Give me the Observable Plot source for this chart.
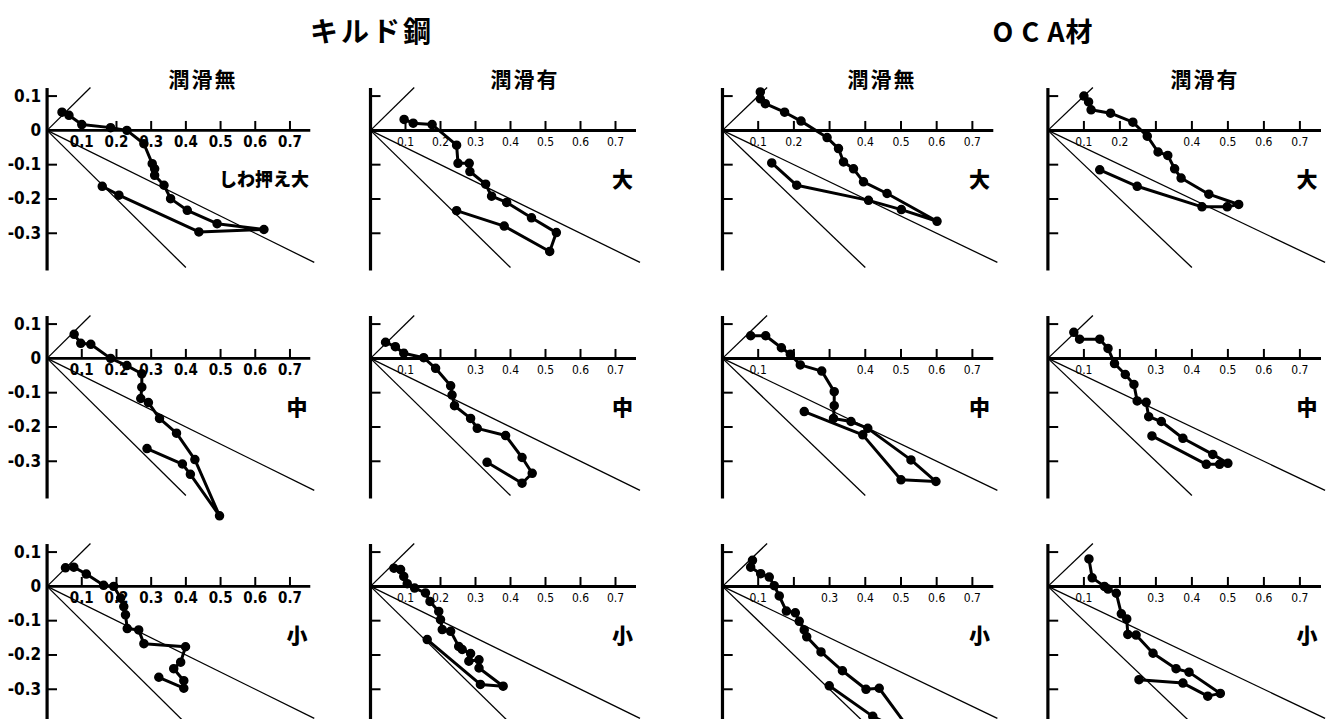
<!DOCTYPE html>
<html><head><meta charset="utf-8">
<script src="https://cdn.jsdelivr.net/npm/d3@7"></script>
<script src="https://cdn.jsdelivr.net/npm/@observablehq/plot@0.6"></script>
<style>
body{margin:0;background:#fff;}
#wrap{position:relative;width:1333px;height:719px;overflow:hidden;background:#fff;}
.t{position:absolute;font-family:"Noto Sans CJK JP",sans-serif;font-weight:700;color:#000;transform:translate(-50%,-50%);white-space:nowrap;line-height:1;}
.p{position:absolute;}
</style></head><body><div id="wrap"></div>
<script>
// ---- text ----
const materials = ["キルド鋼", "O C A材"];
const lubrication = ["潤滑無", "潤滑有", "潤滑無", "潤滑有"];
const rowLabels = [["しわ押え大", "大", "大", "大"], ["中", "中", "中", "中"], ["小", "小", "小", "小"]];

// ---- axis ticks ----
const xTicks = [0.1, 0.2, 0.3, 0.4, 0.5, 0.6, 0.7];
const yTicks = [0.1, -0.1, -0.2, -0.3];
const yTickLabels = ["0.1", "0", "-0.1", "-0.2", "-0.3"];
const xAll = ["0.1", "0.2", "0.3", "0.4", "0.5", "0.6", "0.7"];
const xNo3 = ["0.1", "0.2", "0.4", "0.5", "0.6", "0.7"];
const xNo2 = ["0.1", "0.3", "0.4", "0.5", "0.6", "0.7"];
const xNo23 = ["0.1", "0.4", "0.5", "0.6", "0.7"];
const xTickLabels = [xAll, xAll, xNo3, xNo3, xAll, xNo2, xNo23, xNo2, xAll, xAll, xNo2, xNo2];

// ---- reference lines (slope, x extent) ----
const guideSlopes = [1, -1, -0.5];
const guideXEnd = [0.125, 0.40, 0.77];

// ---- strain paths (x, y) per panel ----
const p1x = [0.043,0.063,0.100,0.183,0.23,0.279,0.303,0.310,0.310,0.337,0.356,0.404,0.490,0.625,0.4375,0.207,0.159];
const p1y = [0.053,0.044,0.017,0.008,0.0,-0.039,-0.097,-0.112,-0.131,-0.160,-0.199,-0.233,-0.272,-0.289,-0.296,-0.189,-0.163];
const p2x = [0.096,0.122,0.176,0.246,0.250,0.282,0.284,0.329,0.346,0.389,0.460,0.531,0.512,0.382,0.246];
const p2y = [0.032,0.021,0.017,-0.043,-0.096,-0.096,-0.120,-0.157,-0.192,-0.210,-0.255,-0.298,-0.353,-0.279,-0.234];
const p3x = [0.106,0.106,0.120,0.174,0.220,0.293,0.325,0.339,0.367,0.395,0.461,0.601,0.501,0.409,0.208,0.138];
const p3y = [0.112,0.092,0.078,0.053,0.027,-0.021,-0.053,-0.092,-0.112,-0.150,-0.184,-0.265,-0.231,-0.204,-0.160,-0.095];
const p4x = [0.100,0.113,0.120,0.174,0.236,0.276,0.306,0.333,0.352,0.370,0.447,0.530,0.498,0.428,0.248,0.144];
const p4y = [0.100,0.083,0.060,0.050,0.024,-0.017,-0.063,-0.073,-0.112,-0.139,-0.186,-0.216,-0.223,-0.223,-0.163,-0.115];
const p5x = [0.078,0.097,0.126,0.183,0.230,0.273,0.273,0.270,0.292,0.324,0.373,0.426,0.497,0.413,0.390,0.288];
const p5y = [0.070,0.044,0.041,0.0,-0.021,-0.045,-0.084,-0.117,-0.129,-0.175,-0.218,-0.295,-0.459,-0.338,-0.308,-0.263];
const p6x = [0.043,0.071,0.095,0.152,0.186,0.229,0.233,0.240,0.286,0.305,0.386,0.433,0.462,0.433,0.333];
const p6y = [0.047,0.034,0.015,0.002,-0.029,-0.080,-0.107,-0.138,-0.175,-0.204,-0.225,-0.289,-0.335,-0.364,-0.303];
const p7x = [0.079,0.121,0.165,0.190,0.218,0.278,0.313,0.313,0.311,0.360,0.407,0.528,0.598,0.500,0.393,0.229];
const p7y = [0.066,0.066,0.031,0.012,-0.019,-0.037,-0.097,-0.138,-0.175,-0.184,-0.204,-0.296,-0.359,-0.354,-0.223,-0.155];
const p8x = [0.072,0.088,0.144,0.167,0.185,0.215,0.239,0.248,0.273,0.280,0.315,0.375,0.458,0.500,0.477,0.440,0.289];
const p8y = [0.076,0.056,0.056,0.029,-0.015,-0.047,-0.076,-0.124,-0.128,-0.170,-0.184,-0.233,-0.280,-0.306,-0.309,-0.309,-0.226];
const p9x = [0.053,0.077,0.113,0.163,0.192,0.212,0.221,0.226,0.231,0.264,0.279,0.399,0.385,0.365,0.394,0.394,0.322];
const p9y = [0.054,0.056,0.036,0.003,0.0,-0.034,-0.059,-0.083,-0.123,-0.127,-0.167,-0.176,-0.221,-0.240,-0.275,-0.297,-0.265];
const p10x = [0.067,0.086,0.095,0.105,0.126,0.157,0.170,0.195,0.200,0.205,0.229,0.252,0.262,0.286,0.281,0.310,0.310,0.379,0.314,0.162];
const p10y = [0.053,0.049,0.029,0.008,-0.005,-0.019,-0.044,-0.073,-0.097,-0.126,-0.131,-0.175,-0.184,-0.196,-0.218,-0.214,-0.238,-0.291,-0.286,-0.155];
const p11x = [0.084,0.079,0.107,0.131,0.145,0.159,0.179,0.204,0.215,0.229,0.236,0.276,0.336,0.402,0.439,0.54,0.421,0.299];
const p11y = [0.076,0.056,0.037,0.027,0.002,-0.028,-0.072,-0.077,-0.102,-0.127,-0.147,-0.191,-0.246,-0.300,-0.297,-0.44,-0.379,-0.290];
const p12x = [0.114,0.123,0.157,0.167,0.190,0.204,0.219,0.222,0.245,0.292,0.356,0.392,0.479,0.444,0.375,0.253];
const p12y = [0.080,0.025,0.0,-0.008,-0.020,-0.080,-0.095,-0.140,-0.142,-0.195,-0.240,-0.250,-0.312,-0.320,-0.282,-0.272];

const pathsX = [p1x,p2x,p3x,p4x,p5x,p6x,p7x,p8x,p9x,p10x,p11x,p12x];
const pathsY = [p1y,p2y,p3y,p4y,p5y,p6y,p7y,p8y,p9y,p10y,p11y,p12y];

// ---- layout ----
const xMin = -0.14, xMax = 0.84, yMin = -0.5, yMax = 0.16;
const colX = [46.5, 369.5, 721.5, 1047], colK = [347, 350, 357, 360];
const rowY = [130, 358, 586], kY = 343;
const wrap = document.getElementById("wrap");

function addText(txt, x, y, size, extra) {
  const d = document.createElement("div");
  d.className = "t";
  d.textContent = txt;
  d.style.left = x + "px"; d.style.top = y + "px"; d.style.fontSize = size + "px";
  if (extra) Object.assign(d.style, extra);
  wrap.appendChild(d);
}

const numFont = '"Liberation Sans Narrow","DejaVu Sans Condensed","Liberation Sans",sans-serif';
const jpFont = '"Noto Sans CJK JP",sans-serif';

for (let i = 0; i < 12; i++) {
  const r = Math.floor(i / 4), c = i % 4;
  const kx = colK[c];
  const w = (xMax - xMin) * kx, h = (yMax - yMin) * kY;
  const pts = pathsX[i].map((x, j) => ({x, y: pathsY[i][j]}));
  const guides = guideSlopes.map((s, j) => ({s, xe: guideXEnd[j]}));
  const bold = c === 0;
  const marks = [
    Plot.link(guides, {x1: 0, y1: 0, x2: d => d.xe, y2: d => d.xe * d.s, stroke: "#000", strokeWidth: 1.3}),
    Plot.ruleY([0], {x1: 0, x2: 0.76, stroke: "#000", strokeWidth: 3}),
    Plot.ruleX([0], {y1: -0.41, y2: 0.122, stroke: "#000", strokeWidth: 3.2}),
    Plot.ruleX(xTicks, {x: d => d, y1: 0, y2: 0.026, stroke: "#000", strokeWidth: 2}),
    Plot.ruleY(yTicks, {y: d => d, x1: 0, x2: 0.03, stroke: "#000", strokeWidth: 2}),
    Plot.text(xTickLabels[i], {x: d => +d, y: 0, dy: 12, text: d => d, fill: "#000",
      fontSize: bold ? 15 : 12, fontWeight: bold ? 700 : 400, fontFamily: numFont}),
    Plot.line(pts, {x: "x", y: "y", stroke: "#000", strokeWidth: 3}),
    Plot.dot(pts, {x: "x", y: "y", r: 4, fill: "#000", stroke: "#000"}),
    Plot.text([rowLabels[r][c]], {x: (i === 0 ? 0.625 : 0.72), y: -0.145, text: d => d, fill: "#000",
      fontSize: i === 0 ? 18 : 21, fontWeight: 900, fontFamily: jpFont})
  ];
  if (c === 0) {
    marks.push(Plot.text(yTickLabels, {x: 0, y: d => +d, dx: -6, text: d => d, textAnchor: "end", fill: "#000",
      fontSize: 17, fontWeight: 700, fontFamily: numFont}));
  }
  const svg = Plot.plot({
    width: w, height: h,
    margin: 0, inset: 0,
    x: {domain: [xMin, xMax], axis: null},
    y: {domain: [yMin, yMax], axis: null},
    style: {background: "transparent", overflow: "visible"},
    marks
  });
  svg.classList.add("p");
  svg.style.left = (colX[c] + xMin * kx) + "px";
  svg.style.top = (rowY[r] - yMax * kY) + "px";
  svg.style.maxWidth = "none";
  wrap.appendChild(svg);
}

addText(materials[0], 372, 30, 28, {letterSpacing: "3px"});
addText(materials[1], 1043, 30, 27, {letterSpacing: "1px"});
const subX = [203, 525, 882, 1205];
lubrication.forEach((t, j) => addText(t, subX[j], 78, 21, {letterSpacing: "2px"}));
</script></body></html>
